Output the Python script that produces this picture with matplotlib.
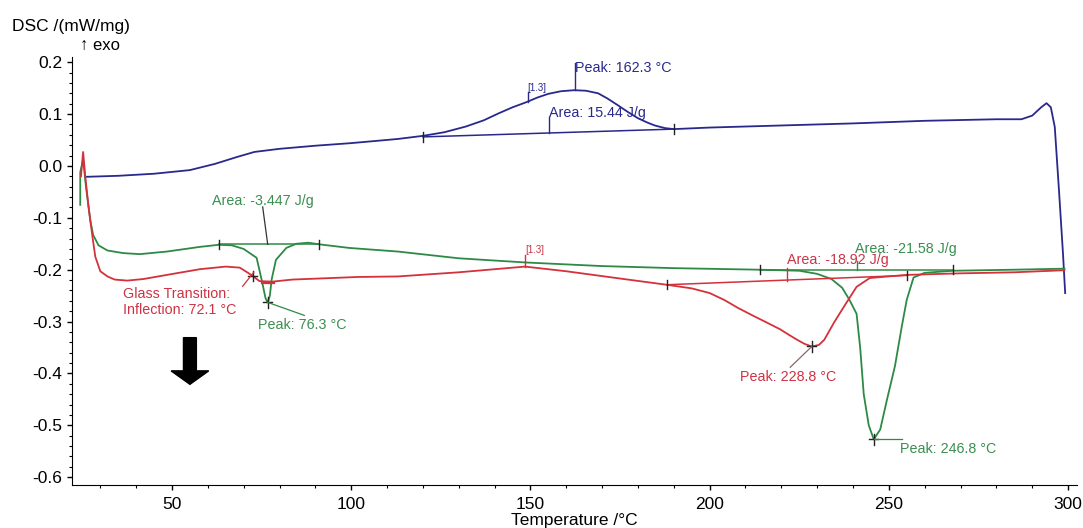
import matplotlib
matplotlib.use('Agg')
import matplotlib.pyplot as plt
from matplotlib.patches import FancyArrow
import numpy as np

plt.rcParams['font.family'] = ['Liberation Sans', 'DejaVu Sans']
plt.rcParams['axes.unicode_minus'] = False

# curves: temperature (°C), DSC (mW/mg)
blue_t = [25.8, 35, 45, 55, 62, 68, 73, 80, 90, 100, 113, 120, 126, 132, 137, 141, 145,
          148.9, 152, 155, 158.5, 162.2, 165.5, 168.9, 171.5, 174.4, 177.2, 180, 182.5,
          184.7, 187.5, 190, 200, 220, 240, 260, 280, 287, 290, 292.5, 294, 295.2, 296.3,
          297.5, 298.6, 299.2]
blue_y = [-0.021, -0.019, -0.015, -0.008, 0.004, 0.017, 0.027, 0.033, 0.039, 0.044,
          0.052, 0.058, 0.065, 0.076, 0.088, 0.101, 0.113, 0.123, 0.132, 0.139, 0.144,
          0.146, 0.145, 0.140, 0.130, 0.117, 0.104, 0.092, 0.084, 0.078, 0.073, 0.071,
          0.074, 0.078, 0.082, 0.087, 0.090, 0.090, 0.097, 0.113, 0.121, 0.113, 0.075,
          -0.05, -0.17, -0.245]

green_t = [24.4, 24.4, 25.2, 26.0, 27.2, 28, 29.5, 32, 36.4, 41, 48.6, 57.8, 63, 66.7,
           70, 73.6, 75, 76.1, 76.7, 77.3, 77.8, 79, 81.9, 84.7, 88, 91, 99.4, 113, 130,
           148.5, 170, 190, 214, 225, 230, 234, 237, 239, 241, 242, 243, 244.4, 245.8,
           247.6, 249.5, 251.7, 253.6, 255, 256.9, 260, 268, 285, 299]
green_y = [-0.075, -0.012, 0.012, -0.04, -0.105, -0.133, -0.153, -0.163, -0.168, -0.170,
           -0.165, -0.156, -0.152, -0.153, -0.16, -0.177, -0.219, -0.255, -0.263, -0.25,
           -0.219, -0.181, -0.158, -0.150, -0.148, -0.151, -0.158, -0.165, -0.178, -0.186,
           -0.193, -0.197, -0.200, -0.202, -0.208, -0.218, -0.235, -0.258, -0.285, -0.35,
           -0.44, -0.50, -0.527, -0.508, -0.45, -0.386, -0.31, -0.258, -0.215, -0.206,
           -0.202, -0.200, -0.198]

red_t = [24.6, 25.2, 25.8, 26.7, 27.8, 28.6, 30, 32, 34, 37.5, 42, 48.6, 57.8, 65, 68.9,
         71.2, 72.5, 74.4, 78, 83.6, 102, 113, 130, 148.5, 160, 175, 188, 195, 200, 204,
         208, 212.5, 216, 219.7, 222, 224.4, 226.5, 228.5, 230.5, 232, 234.7, 237.5, 241,
         244.7, 255, 270, 285, 299]
red_y = [-0.02, 0.027, -0.02, -0.078, -0.136, -0.175, -0.203, -0.213, -0.219, -0.221,
         -0.218, -0.21, -0.199, -0.194, -0.196, -0.206, -0.212, -0.222, -0.223, -0.219,
         -0.214, -0.213, -0.205, -0.194, -0.203, -0.217, -0.229, -0.236, -0.245, -0.258,
         -0.274, -0.29, -0.302, -0.315, -0.325, -0.335, -0.343, -0.348, -0.345, -0.335,
         -0.302, -0.271, -0.233, -0.216, -0.21, -0.207, -0.205, -0.201]

# integration baselines (start, end)
blue_base = ([120, 190], [0.056, 0.071])
green_base1 = ([63, 91], [-0.151, -0.151])
green_base2 = ([214, 268], [-0.200, -0.200])
red_base = ([188, 255], [-0.229, -0.211])

y_ticks = [-0.6, -0.5, -0.4, -0.3, -0.2, -0.1, 0.0, 0.1, 0.2]
y_labels = ['-0.6', '-0.5', '-0.4', '-0.3', '-0.2', '-0.1', '0.0', '0.1', '0.2']

BLUE = '#29298c'
GREEN = '#2d8a45'
RED = '#d4313b'
GTXT = '#3a8e50'
RTXT = '#cc3344'

fig = plt.figure(figsize=(10.83, 5.28), dpi=100)
ax = fig.add_axes([72/1083, 1-485/528, (1077-72)/1083, (485-57)/528])

ax.plot(blue_t, blue_y, color=BLUE, lw=1.3)
ax.plot(green_t, green_y, color=GREEN, lw=1.3)
ax.plot(red_t, red_y, color=RED, lw=1.3)

for (bt, by), c in [(blue_base, BLUE), (green_base1, GREEN), (green_base2, GREEN), (red_base, RED)]:
    ax.plot(bt, by, color=c, lw=1.1)
    for t, y in zip(bt, by):
        ax.plot([t, t], [y - 0.009, y + 0.009], color='#222222', lw=1.0)

def tick(x, y0, y1, c):
    ax.plot([x, x], [y0, y1], color=c, lw=1.0)

def cross(x, y):
    ax.plot([x - 1.2, x + 1.2], [y, y], color='#222222', lw=1.0)
    ax.plot([x, x], [y - 0.01, y + 0.01], color='#222222', lw=1.0)

fs = 10.3
# blue peak
tick(162.3, 0.146, 0.198, BLUE)
ax.text(162.5, 0.188, 'Peak: 162.3 °C', color=BLUE, fontsize=fs, ha='left', va='center')
tick(155.3, 0.063, 0.095, BLUE)
ax.text(155.3, 0.102, 'Area: 15.44 J/g', color=BLUE, fontsize=fs, ha='left', va='center')
tick(149.2, 0.123, 0.142, BLUE)
ax.text(149.0, 0.150, '[1.3]', color=BLUE, fontsize=7, ha='left', va='center')

# green first peak
cross(76.7, -0.263)
ax.plot([76.7, 86.9], [-0.263, -0.288], color=GREEN, lw=0.9)
ax.text(73.9, -0.306, 'Peak: 76.3 °C', color=GTXT, fontsize=fs, ha='left', va='center')
ax.plot([75.3, 76.7], [-0.079, -0.151], color='#333333', lw=0.9)
ax.text(61.1, -0.067, 'Area: -3.447 J/g', color=GTXT, fontsize=fs, ha='left', va='center')

# red glass transition
cross(72.5, -0.212)
ax.plot([69.7, 72.8], [-0.232, -0.205], color=RED, lw=0.9)
ax.plot([75, 78.5], [-0.225, -0.225], color=RED, lw=1.6)
ax.text(36.4, -0.262, 'Glass Transition:\nInflection: 72.1 °C', color=RTXT, fontsize=fs,
        ha='left', va='center', linespacing=1.2)

# red [1.3] and area
tick(148.5, -0.194, -0.172, RED)
ax.text(148.6, -0.162, '[1.3]', color=RTXT, fontsize=7, ha='left', va='center')
tick(221.7, -0.221, -0.197, RED)
ax.text(221.7, -0.181, 'Area: -18.92 J/g', color=RTXT, fontsize=fs, ha='left', va='center')

# red peak
cross(228.5, -0.348)
ax.plot([228.5, 222.5], [-0.348, -0.388], color='#886666', lw=0.9)
ax.text(208.6, -0.406, 'Peak: 228.8 °C', color=RTXT, fontsize=fs, ha='left', va='center')

# green second peak and area
cross(245.8, -0.527)
ax.plot([245.8, 253.6], [-0.527, -0.527], color=GREEN, lw=0.9)
ax.text(253.0, -0.546, 'Peak: 246.8 °C', color=GTXT, fontsize=fs, ha='left', va='center')
tick(241.0, -0.200, -0.183, GREEN)
ax.text(240.5, -0.160, 'Area: -21.58 J/g', color=GTXT, fontsize=fs, ha='left', va='center')

# black arrow
ax.add_patch(FancyArrow(55, -0.331, 0, -0.09, width=3.6, head_width=10.5,
                        head_length=0.026, length_includes_head=True, color='black'))

ax.set_xlim(22.1, 302.5)
ax.set_ylim(-0.615, 0.21)
ax.spines['top'].set_visible(False)
ax.spines['right'].set_visible(False)
ax.set_xticks(np.arange(50, 301, 50))
ax.set_xticks(np.arange(30, 301, 10), minor=True)
ax.set_yticks(y_ticks)
ax.set_yticklabels(y_labels)
ax.set_yticks(np.arange(-0.6, 0.21, 0.02), minor=True)
ax.tick_params(axis='both', which='major', labelsize=12.5, length=3.5, width=1)
ax.tick_params(axis='both', which='minor', length=2, width=0.8)
ax.tick_params(axis='x', pad=5)

ax.set_xlabel('Temperature /°C', fontsize=12.5, labelpad=1)
fig.text(12/1083, 1-27/528, 'DSC /(mW/mg)', fontsize=12.5, ha='left', va='center')
fig.text(80/1083, 1-45/528, '↑ exo', fontsize=12, ha='left', va='center')

fig.savefig('out.png', dpi=100)
